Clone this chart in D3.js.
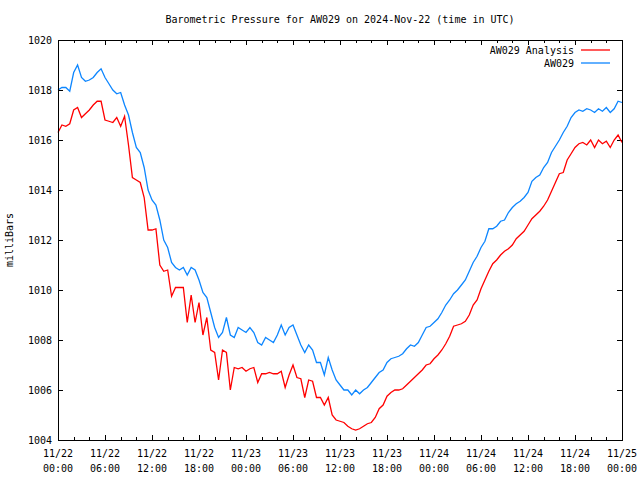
<!DOCTYPE html>
<html>
<head>
<meta charset="utf-8">
<script src="https://cdn.jsdelivr.net/npm/d3@7"></script>
<style>
  body { margin: 0; background: #fff; }
  text { font-family: "DejaVu Sans Mono", "Liberation Mono", monospace; font-size: 10px; fill: #000; }
</style>
</head>
<body>
<svg id="chart" width="640" height="480"></svg>
<script>
// ---- Data (30-minute samples from 2024-11-22 00:00 UTC) ----
const startTime = "2024-11-22T00:00:00Z";
const stepMinutes = 30;
const seriesNames = ["AW029 Analysis", "AW029"];
const seriesColors = ["#ff0000", "#0d86ff"];
const yTicks = [1004, 1006, 1008, 1010, 1012, 1014, 1016, 1018, 1020];
const xTickDates = ["11/22","11/22","11/22","11/22","11/23","11/23","11/23","11/23","11/24","11/24","11/24","11/24","11/25"];
const xTickTimes = ["00:00","06:00","12:00","18:00","00:00","06:00","12:00","18:00","00:00","06:00","12:00","18:00","00:00"];

const analysis = [
 1016.3,1016.6,1016.55,1016.65,1017.2,1017.3,1016.9,1017.05,1017.2,1017.4,
 1017.55,1017.55,1016.8,1016.75,1016.7,1016.9,1016.55,1016.95,1015.8,1014.5,
 1014.4,1014.3,1013.7,1012.4,1012.4,1012.45,1011.0,1010.75,1010.8,1009.75,
 1010.1,1010.1,1010.1,1008.7,1009.8,1008.7,1009.5,1008.2,1008.9,1007.6,
 1007.5,1006.4,1007.6,1007.5,1006.0,1006.9,1006.85,1006.9,1006.75,1006.85,
 1006.9,1006.3,1006.65,1006.65,1006.7,1006.65,1006.65,1006.75,1006.1,1006.6,
 1007.0,1006.5,1006.45,1005.7,1006.4,1006.35,1005.7,1005.7,1005.4,1005.7,
 1005.0,1004.8,1004.75,1004.7,1004.55,1004.45,1004.4,1004.45,1004.55,1004.65,
 1004.7,1004.9,1005.25,1005.4,1005.75,1005.9,1006.0,1006.0,1006.05,1006.2,
 1006.35,1006.5,1006.65,1006.8,1007.0,1007.05,1007.25,1007.4,1007.6,1007.85,
 1008.15,1008.55,1008.6,1008.65,1008.75,1009.0,1009.4,1009.6,1010.05,1010.4,
 1010.75,1011.05,1011.2,1011.4,1011.55,1011.65,1011.8,1012.05,1012.2,1012.35,
 1012.6,1012.85,1013.0,1013.15,1013.35,1013.6,1013.95,1014.3,1014.65,1014.7,
 1015.2,1015.45,1015.7,1015.85,1015.9,1015.8,1016.0,1015.7,1016.0,1015.85,
 1015.95,1015.7,1016.0,1016.2,1015.9
];
const observed = [
 1018.0,1018.1,1018.1,1017.95,1018.7,1019.0,1018.5,1018.35,1018.4,1018.5,
 1018.7,1018.85,1018.5,1018.25,1018.0,1017.85,1017.9,1017.4,1017.0,1016.3,
 1015.7,1015.5,1014.9,1014.0,1013.6,1013.4,1012.8,1012.0,1011.7,1011.1,
 1010.9,1010.8,1010.9,1010.6,1010.9,1010.8,1010.4,1009.9,1009.7,1009.1,
 1008.5,1008.1,1008.3,1008.9,1008.2,1008.1,1008.5,1008.4,1008.3,1008.5,
 1008.3,1007.9,1007.8,1008.1,1008.0,1007.9,1008.2,1008.6,1008.2,1008.5,
 1008.6,1008.2,1007.8,1007.5,1007.8,1007.6,1007.1,1007.1,1006.6,1007.3,
 1006.8,1006.4,1006.2,1006.0,1006.0,1005.8,1006.0,1005.85,1006.0,1006.1,
 1006.3,1006.5,1006.7,1006.8,1007.1,1007.25,1007.3,1007.35,1007.45,1007.65,
 1007.8,1007.75,1007.9,1008.2,1008.5,1008.55,1008.7,1008.85,1009.1,1009.4,
 1009.6,1009.85,1010.0,1010.2,1010.4,1010.75,1011.1,1011.35,1011.7,1011.95,
 1012.45,1012.45,1012.55,1012.75,1012.8,1013.1,1013.3,1013.45,1013.55,1013.7,
 1013.9,1014.35,1014.5,1014.6,1014.9,1015.1,1015.5,1015.75,1016.0,1016.3,
 1016.55,1016.9,1017.1,1017.2,1017.15,1017.25,1017.2,1017.1,1017.25,1017.15,
 1017.3,1017.1,1017.25,1017.55,1017.5
];

(function () {
// ---- Layout ----
const margin = {left: 58, right: 18, top: 40, bottom: 40};
const W = 640, H = 480;
const svg = d3.select("#chart");

const t0 = new Date(startTime);
const t1 = new Date(t0.getTime() + 72 * 3600 * 1000);
const x = d3.scaleUtc().domain([t0, t1]).range([margin.left, W - margin.right]);
const y = d3.scaleLinear().domain([1004, 1020]).range([H - margin.bottom, margin.top]);

const timeAt = i => new Date(t0.getTime() + i * stepMinutes * 60000);

// Title
svg.append("text")
  .attr("x", (margin.left + W - margin.right) / 2)
  .attr("y", 23)
  .attr("text-anchor", "middle")
  .text("Barometric Pressure for AW029 on 2024-Nov-22 (time in UTC)");

// Y label
svg.append("text")
  .attr("transform", `translate(13,${(margin.top + H - margin.bottom) / 2}) rotate(-90)`)
  .attr("text-anchor", "middle")
  .text("milliBars");

// Ticks
const majorX = d3.range(0, 13).map(i => new Date(t0.getTime() + i * 6 * 3600000));
const minorX = d3.range(0, 37).map(i => new Date(t0.getTime() + i * 2 * 3600000));

const axG = svg.append("g").attr("shape-rendering", "crispEdges").attr("stroke", "#000").attr("stroke-width", 1);
const pTop = margin.top, pBot = H - margin.bottom, pLft = margin.left, pRgt = W - margin.right;

minorX.forEach(d => {
  const px = Math.round(x(d)) + 0.5;
  axG.append("line").attr("x1", px).attr("x2", px).attr("y1", pBot).attr("y2", pBot - 3);
  axG.append("line").attr("x1", px).attr("x2", px).attr("y1", pTop).attr("y2", pTop + 3);
});
majorX.forEach(d => {
  const px = Math.round(x(d)) + 0.5;
  axG.append("line").attr("x1", px).attr("x2", px).attr("y1", pBot).attr("y2", pBot - 5);
  axG.append("line").attr("x1", px).attr("x2", px).attr("y1", pTop).attr("y2", pTop + 5);
});
yTicks.forEach(v => {
  const py = Math.round(y(v)) + 0.5;
  axG.append("line").attr("x1", pLft).attr("x2", pLft + 5).attr("y1", py).attr("y2", py);
  axG.append("line").attr("x1", pRgt).attr("x2", pRgt - 5).attr("y1", py).attr("y2", py);
});

// Y tick labels
yTicks.forEach(v => {
  svg.append("text")
    .attr("x", pLft - 6).attr("y", y(v) + 4)
    .attr("text-anchor", "end")
    .text(v);
});

// X tick labels (two lines)
majorX.forEach((d, i) => {
  const t = svg.append("text").attr("text-anchor", "middle");
  t.append("tspan").attr("x", x(d)).attr("y", 457).text(xTickDates[i]);
  t.append("tspan").attr("x", x(d)).attr("y", 472).text(xTickTimes[i]);
});

// Lines
const line = d3.line().x((d, i) => x(timeAt(i))).y(d => y(d));
[analysis, observed].forEach((s, k) => {
  svg.append("path")
    .datum(s)
    .attr("fill", "none")
    .attr("stroke", seriesColors[k])
    .attr("stroke-width", 1.3)
    .attr("stroke-linejoin", "miter")
    .attr("d", line);
});

// Frame
svg.append("rect")
  .attr("x", pLft + 0.5).attr("y", pTop + 0.5)
  .attr("width", pRgt - pLft).attr("height", pBot - pTop)
  .attr("fill", "none").attr("stroke", "#000").attr("stroke-width", 1)
  .attr("shape-rendering", "crispEdges");

// Legend
seriesNames.forEach((name, k) => {
  const ly = 50 + k * 13;
  svg.append("text").attr("x", 574).attr("y", ly + 3.5).attr("text-anchor", "end").text(name);
  svg.append("line").attr("x1", 581).attr("x2", 610).attr("y1", ly).attr("y2", ly)
    .attr("stroke", seriesColors[k]).attr("stroke-width", 1.3);
});
})();
</script>
</body>
</html>
